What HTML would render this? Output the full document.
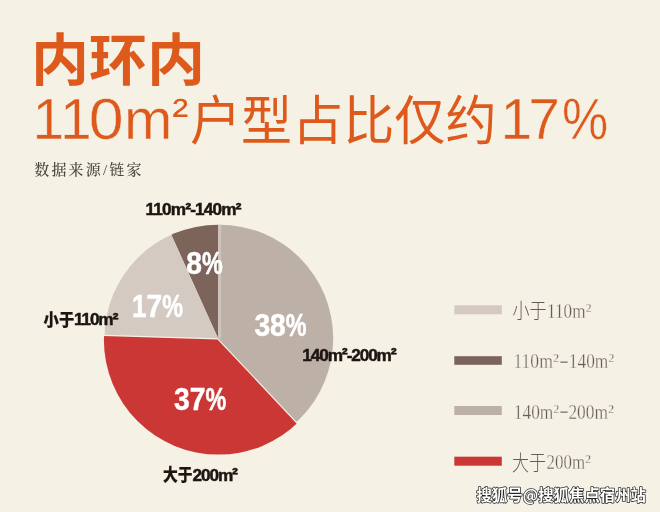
<!DOCTYPE html>
<html lang="zh-CN">
<head>
<meta charset="utf-8">
<title>内环内 110m²户型占比仅约17%</title>
<style>
html,body{margin:0;padding:0;background:#f5f1e5;}
body{width:660px;height:512px;overflow:hidden;position:relative;}
svg{display:block;position:absolute;left:0;top:0;}
text{font-family:"Liberation Sans","Noto Sans CJK SC",sans-serif;}
.t1{font-family:"Noto Sans CJK SC","Liberation Sans",sans-serif;font-weight:700;font-size:58px;fill:#dd5a1c;}
.t2{font-family:"Noto Sans CJK SC","Liberation Sans",sans-serif;font-weight:300;font-size:52px;fill:#dd5a1c;}
.t2 .lat{font-family:"Liberation Sans",sans-serif;font-weight:400;font-size:57px;stroke:#f5f1e5;stroke-width:0.5px;}
.t2 .sup{font-family:"Liberation Sans",sans-serif;font-weight:400;font-size:44px;}
.t2 .cjk{font-family:"Noto Sans CJK SC",sans-serif;font-weight:400;font-size:53px;}
.src{font-family:"Liberation Serif","Noto Serif CJK SC",serif;font-weight:500;font-size:15px;fill:#4a4540;}
.lab{font-family:"Liberation Sans","Noto Sans CJK SC",sans-serif;font-weight:700;font-size:17.2px;fill:#1c1512;}
.lab{stroke:#1c1512;stroke-width:0.5px;stroke-linejoin:round;}
.lab .sp{font-size:18px;}
.lab .cj{font-family:"Noto Sans CJK SC",sans-serif;font-weight:900;font-size:17px;stroke-width:0.2px;}
.pct{font-family:"Liberation Sans",sans-serif;font-weight:700;font-size:31px;fill:#ffffff;stroke:#ffffff;stroke-width:0.5px;stroke-linejoin:round;}
.leg{font-family:"Liberation Serif","Noto Serif CJK SC",serif;font-weight:400;font-size:21.5px;fill:#645d57;stroke:#f5f1e5;stroke-width:0.35px;}
.leg .cj{font-family:"Noto Sans CJK SC",sans-serif;font-weight:300;font-size:21px;stroke:none;}
.leg .sp{font-size:20px;}
.wm{font-family:"Noto Sans CJK SC","Liberation Sans",sans-serif;font-weight:700;font-size:15.5px;fill:#ffffff;stroke:#262626;stroke-width:1.5px;paint-order:stroke fill;stroke-linejoin:round;}
</style>
</head>
<body>
<svg width="660" height="512" viewBox="0 0 660 512">
<defs>
<clipPath id="ca"><circle cx="218" cy="338.3" r="113.6"/></clipPath>
<clipPath id="cc"><circle cx="219.6" cy="338.3" r="113.6"/></clipPath>
<clipPath id="cb"><circle cx="218.5" cy="340" r="114.6"/></clipPath>
</defs>
<rect width="660" height="512" fill="#f5f1e5"/>

<!-- pie -->
<g id="pie">
<g clip-path="url(#cc)">
<polygon points="218,338.3 218,200 450,200 450,585.2" fill="#bdb0a7"/>
<rect x="218" y="200" width="3.2" height="138.3" fill="#cec3ba"/>
</g>
<g clip-path="url(#ca)">
<polygon points="218,338.3 218,180 148.4,183.9" fill="#7d645b"/>
<polygon points="218,338.3 148.4,183.9 50,180 50,333.1" fill="#d4cac2"/>
</g>
<g clip-path="url(#cb)">
<polygon points="217.5,339.4 388.75,521.65 50,521.65 50,334.3" fill="#ca3735"/>
</g>
</g>

<!-- titles -->
<text id="t1" class="t1" x="31" y="83" transform="scale(1,0.96)">内环内</text>
<text class="t2" y="138.8"><tspan id="t2a" class="lat"><tspan x="32.6">1</tspan><tspan x="60.1">1</tspan><tspan x="88.8" textLength="34.9" lengthAdjust="spacingAndGlyphs">0</tspan><tspan x="124.1" textLength="48.4" lengthAdjust="spacingAndGlyphs">m</tspan></tspan><tspan id="t2b" class="sup" x="172.3" y="129" textLength="16.1" lengthAdjust="spacingAndGlyphs">²</tspan><tspan id="t2c" class="cjk" x="190" y="140.3" textLength="306.5" lengthAdjust="spacingAndGlyphs">户型占比仅约</tspan><tspan id="t2d" class="lat" y="138.8"><tspan x="500.6">1</tspan><tspan x="528.3">7</tspan><tspan x="561.9" textLength="46.2" lengthAdjust="spacingAndGlyphs">%</tspan></tspan></text>
<text id="src" class="src" x="34.2" y="175" letter-spacing="2.2">数据来源/链家</text>

<!-- pie labels -->
<text id="la" class="lab" x="145.6" y="215.4" textLength="96" lengthAdjust="spacing">110m<tspan class="sp" dy="-0.8">²</tspan><tspan dy="0.8">-140m</tspan><tspan class="sp" dy="-0.8">²</tspan></text>
<text id="lb" class="lab" y="325.3"><tspan class="cj" x="43.6" y="325.6" textLength="30.6" lengthAdjust="spacingAndGlyphs">小于</tspan><tspan x="74" y="325.3" textLength="44.5" lengthAdjust="spacing">110m<tspan class="sp" dy="-0.8">²</tspan></tspan></text>
<text id="lc" class="lab" x="302.3" y="360.5" textLength="94.5" lengthAdjust="spacing">140m<tspan class="sp" dy="-0.8">²</tspan><tspan dy="0.8">-200m</tspan><tspan class="sp" dy="-0.8">²</tspan></text>
<text id="ld" class="lab" y="480.5"><tspan class="cj" x="163" y="480.8" textLength="29.5" lengthAdjust="spacingAndGlyphs">大于</tspan><tspan x="192.6" y="480.5" textLength="45.5" lengthAdjust="spacing">200m<tspan class="sp" dy="-0.8">²</tspan></tspan></text>

<!-- percentages -->
<text id="p8" class="pct" y="273.7"><tspan x="186.3" textLength="15.7" lengthAdjust="spacingAndGlyphs">8</tspan><tspan textLength="20.8" lengthAdjust="spacingAndGlyphs">%</tspan></text>
<text id="p17" class="pct" y="317.2"><tspan x="132" textLength="14.5" lengthAdjust="spacingAndGlyphs">1</tspan><tspan textLength="15.7" lengthAdjust="spacingAndGlyphs">7</tspan><tspan textLength="20.8" lengthAdjust="spacingAndGlyphs">%</tspan></text>
<text id="p38" class="pct" y="335.7"><tspan x="254.4" textLength="15.7" lengthAdjust="spacingAndGlyphs">3</tspan><tspan textLength="15.7" lengthAdjust="spacingAndGlyphs">8</tspan><tspan textLength="20.8" lengthAdjust="spacingAndGlyphs">%</tspan></text>
<text id="p37" class="pct" y="409.9"><tspan x="174" textLength="15.7" lengthAdjust="spacingAndGlyphs">3</tspan><tspan textLength="15.7" lengthAdjust="spacingAndGlyphs">7</tspan><tspan textLength="20.8" lengthAdjust="spacingAndGlyphs">%</tspan></text>

<!-- legend -->
<rect x="454.3" y="305.3" width="47.5" height="9" fill="#d4cac2"/>
<rect x="454.3" y="356.2" width="47.5" height="8.6" fill="#7d645b"/>
<rect x="454.3" y="406" width="47.5" height="9" fill="#bdb0a7"/>
<rect x="454.3" y="456.7" width="47.5" height="9" fill="#ca3735"/>
<text id="g1" class="leg"><tspan class="cj" x="512.6" y="318.2" textLength="34" lengthAdjust="spacingAndGlyphs">小于</tspan><tspan x="547.0" y="317.5" textLength="38.5" lengthAdjust="spacingAndGlyphs">110m</tspan><tspan class="sp" dy="-1">²</tspan></text>
<text id="g2" class="leg"><tspan x="513.4" y="368.3" textLength="39.5" lengthAdjust="spacingAndGlyphs">110m</tspan><tspan class="sp" dy="-1">²</tspan><tspan class="dash" x="559" y="366.6" textLength="10" lengthAdjust="spacingAndGlyphs">-</tspan><tspan x="568.8" y="368.3" textLength="39.5" lengthAdjust="spacingAndGlyphs">140m</tspan><tspan class="sp" dy="-1">²</tspan></text>
<text id="g3" class="leg"><tspan x="513.8" y="418.6" textLength="39.5" lengthAdjust="spacingAndGlyphs">140m</tspan><tspan class="sp" dy="-1">²</tspan><tspan class="dash" x="559" y="416.9" textLength="10" lengthAdjust="spacingAndGlyphs">-</tspan><tspan x="568.4" y="418.6" textLength="39.5" lengthAdjust="spacingAndGlyphs">200m</tspan><tspan class="sp" dy="-1">²</tspan></text>
<text id="g4" class="leg"><tspan class="cj" x="512.0" y="469.7" textLength="34" lengthAdjust="spacingAndGlyphs">大于</tspan><tspan x="546.6" y="469" textLength="38.5" lengthAdjust="spacingAndGlyphs">200m</tspan><tspan class="sp" dy="-1">²</tspan></text>

<!-- watermark -->
<text id="wm" class="wm" x="476.5" y="501.3" textLength="169.5" lengthAdjust="spacingAndGlyphs">搜狐号@搜狐焦点宿州站</text>
</svg>
</body>
</html>
